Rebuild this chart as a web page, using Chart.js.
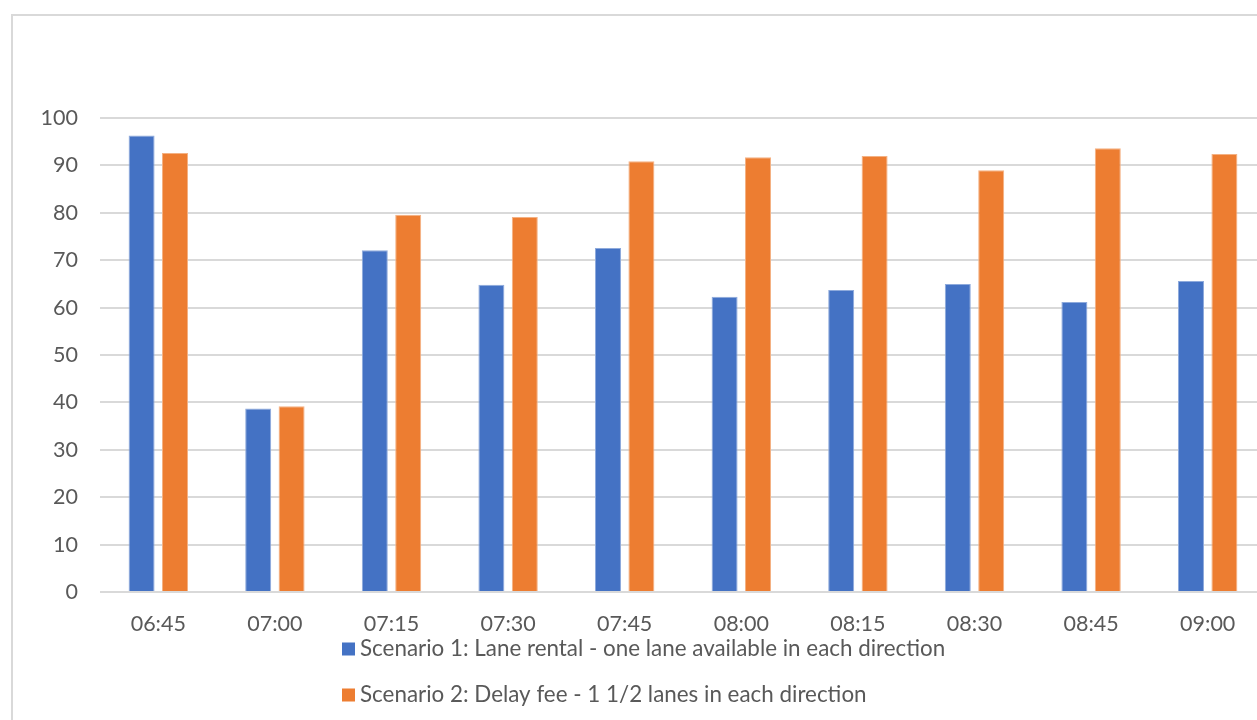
<!DOCTYPE html>
<html>
<head>
<meta charset="utf-8">
<script src="https://cdn.jsdelivr.net/npm/chart.js@4.4.1/dist/chart.umd.min.js"></script>
<style>
  html, body { margin: 0; padding: 0; background: #ffffff; overflow: hidden; }
  #wrap { position: relative; width: 1257px; height: 720px; overflow: hidden; }
  #frame {
    position: absolute; left: 11px; top: 14px; width: 1400px; height: 900px;
    border: 2px solid #d9d9d9; box-sizing: border-box;
  }
  #c { position: absolute; left: 0; top: 0; }
</style>
</head>
<body>
<div id="wrap">
  <div id="frame"></div>
  <canvas id="c" width="1300" height="720"></canvas>
</div>
<script>
// Time slots along the x axis
const timeSlots = ['06:45', '07:00', '07:15', '07:30', '07:45', '08:00', '08:15', '08:30', '08:45', '09:00'];

// Scenario values per time slot
const laneRental = [96.3, 38.7, 72.1, 64.8, 72.6, 62.3, 63.7, 65.0, 61.2, 65.6];
const delayFee   = [92.6, 39.2, 79.6, 79.1, 90.9, 91.7, 92.0, 89.0, 93.6, 92.4];

// Series names
const seriesNames = [
  'Scenario 1: Lane rental - one lane available in each direction',
  'Scenario 2: Delay fee - 1 1/2 lanes in each direction'
];

// Value axis ticks
const yTicks = [0, 10, 20, 30, 40, 50, 60, 70, 80, 90, 100];

const FONT_FAMILY = 'Lato, "Open Sans", sans-serif';
const TICK_SIZE = 21.5;
const LEGEND_SIZE = 22.4;
const TEXT_COLOR = '#595959';
const GRID_COLOR = '#d9d9d9';

// Legend laid out as one entry per row, left aligned
const stackedLegend = {
  id: 'stackedLegend',
  afterDraw(chart, args, opts) {
    const ctx = chart.ctx;
    ctx.save();
    ctx.font = LEGEND_SIZE + 'px ' + FONT_FAMILY;
    ctx.textBaseline = 'middle';
    ctx.textAlign = 'left';
    chart.data.datasets.forEach((ds, i) => {
      const cy = opts.top + i * opts.rowGap;
      ctx.fillStyle = ds.backgroundColor;
      ctx.fillRect(opts.left, cy - opts.box / 2, opts.box, opts.box);
      ctx.fillStyle = TEXT_COLOR;
      ctx.fillText(ds.label, opts.left + opts.box + 5, cy);
    });
    ctx.restore();
  }
};

new Chart(document.getElementById('c'), {
  type: 'bar',
  data: {
    labels: timeSlots,
    datasets: [
      {
        label: seriesNames[0],
        data: laneRental,
        backgroundColor: '#4472c4',
        borderColor: '#8eaadc',
        borderWidth: 1
      },
      {
        label: seriesNames[1],
        data: delayFee,
        backgroundColor: '#ed7d31',
        borderColor: '#f4b183',
        borderWidth: 1
      }
    ]
  },
  options: {
    responsive: false,
    animation: false,
    devicePixelRatio: 1,
    categoryPercentage: 0.573,
    barPercentage: 0.778,
    layout: { padding: { top: 118, right: 34, left: 0, bottom: 0 } },
    plugins: {
      legend: { display: false },
      tooltip: { enabled: false },
      stackedLegend: { left: 342, top: 649, rowGap: 46, box: 13 }
    },
    scales: {
      x: {
        grid: { display: false, drawTicks: false },
        border: { display: false },
        ticks: {
          color: TEXT_COLOR,
          font: { family: FONT_FAMILY, size: TICK_SIZE },
          padding: 19,
          maxRotation: 0
        },
        afterFit(scale) { scale.height = 128; }
      },
      y: {
        min: 0,
        max: 100,
        afterBuildTicks(scale) { scale.ticks = yTicks.map(v => ({ value: v })); },
        grid: { color: GRID_COLOR, lineWidth: 2, drawTicks: false },
        border: { display: false },
        ticks: {
          color: TEXT_COLOR,
          font: { family: FONT_FAMILY, size: TICK_SIZE },
          padding: 22
        },
        afterFit(scale) { scale.width = 100; }
      }
    }
  },
  plugins: [stackedLegend]
});
</script>
</body>
</html>
